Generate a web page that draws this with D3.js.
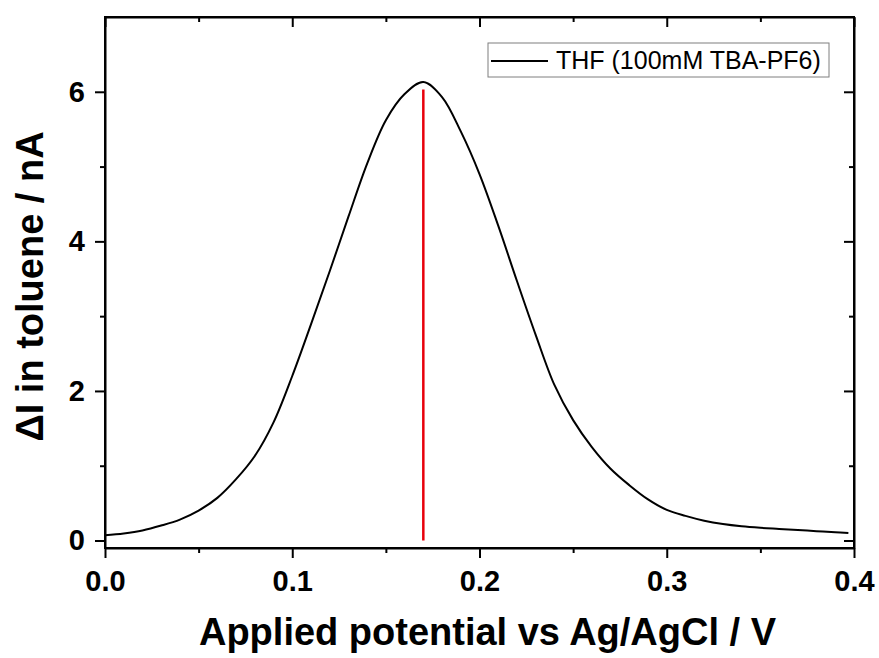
<!DOCTYPE html>
<html>
<head>
<meta charset="utf-8">
<script src="https://cdn.jsdelivr.net/npm/d3@7"></script>
<style>
  html, body { margin: 0; padding: 0; background: #fff; }
  svg { display: block; }
  text { font-family: "Liberation Sans", Arial, sans-serif; }
</style>
</head>
<body>
<svg id="chart" width="879" height="658"></svg>
<script>
// ---- data ----
const potential = [0.00, 0.01, 0.02, 0.03, 0.04, 0.05, 0.06, 0.07, 0.08, 0.09,
                   0.10, 0.11, 0.12, 0.13, 0.14, 0.15, 0.16, 0.17, 0.18, 0.19,
                   0.20, 0.21, 0.22, 0.23, 0.24, 0.25, 0.26, 0.27, 0.28, 0.29,
                   0.30, 0.31, 0.32, 0.33, 0.34, 0.35, 0.36, 0.37, 0.38, 0.39, 0.397];
const deltaI = [0.07, 0.095, 0.135, 0.20, 0.28, 0.40, 0.57, 0.82, 1.13, 1.58,
                2.20, 2.89, 3.60, 4.33, 5.04, 5.62, 5.97, 6.13, 5.93, 5.47,
                4.90, 4.21, 3.47, 2.75, 2.08, 1.61, 1.25, 0.96, 0.74, 0.55,
                0.41, 0.33, 0.265, 0.22, 0.19, 0.17, 0.155, 0.14, 0.125, 0.11, 0.10];
const peakPotential = [0.17];
const peakLine = [0, 6.03];
const xMajorTicks = [0.0, 0.1, 0.2, 0.3, 0.4];
const xMinorTicks = [0.05, 0.15, 0.25, 0.35];
const yMajorTicks = [0, 2, 4, 6];
const yMinorTicks = [1, 3, 5];
const seriesName = "THF (100mM TBA-PF6)";
const xTitle = "Applied potential vs Ag/AgCl / V";
const yTitle = "\u0394I in toluene / nA";

// ---- layout ----
const W = 879, H = 658;
const m = { left: 105, right: 25, top: 17, bottom: 110 };
const svg = d3.select("#chart");

const x = d3.scaleLinear().domain([0, 0.4]).range([m.left, W - m.right]);
const y = d3.scaleLinear().domain([-0.1, 7]).range([H - m.bottom, m.top]);

const axisStyle = g => {
  g.selectAll("path").attr("stroke", "#000").attr("stroke-width", 2);
  g.selectAll("line").attr("stroke", "#000").attr("stroke-width", 2);
};

// bottom axis
const gB = svg.append("g").attr("transform", `translate(0,${H - m.bottom})`)
  .call(d3.axisBottom(x).tickValues(xMajorTicks).tickSize(10).tickSizeOuter(0)
        .tickPadding(12).tickFormat(d3.format(".1f")));
gB.call(axisStyle);
gB.selectAll("text").attr("font-size", 29).attr("font-weight", "bold").attr("fill", "#000");
svg.append("g").attr("transform", `translate(0,${H - m.bottom})`)
  .call(d3.axisBottom(x).tickValues(xMinorTicks).tickSize(5).tickSizeOuter(0).tickFormat(""))
  .call(axisStyle).select("path").remove();

// top axis (ticks inward)
const gT = svg.append("g").attr("transform", `translate(0,${m.top})`)
  .call(d3.axisBottom(x).tickValues(xMajorTicks).tickSize(10).tickSizeOuter(0).tickFormat(""));
gT.call(axisStyle);
svg.append("g").attr("transform", `translate(0,${m.top})`)
  .call(d3.axisBottom(x).tickValues(xMinorTicks).tickSize(5).tickSizeOuter(0).tickFormat(""))
  .call(axisStyle).select("path").remove();

// left axis
const gL = svg.append("g").attr("transform", `translate(${m.left},0)`)
  .call(d3.axisLeft(y).tickValues(yMajorTicks).tickSize(10).tickSizeOuter(0)
        .tickPadding(10).tickFormat(d3.format("d")));
gL.call(axisStyle);
gL.selectAll("text").attr("font-size", 29).attr("font-weight", "bold").attr("fill", "#000");
svg.append("g").attr("transform", `translate(${m.left},0)`)
  .call(d3.axisLeft(y).tickValues(yMinorTicks).tickSize(5).tickSizeOuter(0).tickFormat(""))
  .call(axisStyle).select("path").remove();

// right axis (ticks inward)
const gR = svg.append("g").attr("transform", `translate(${W - m.right},0)`)
  .call(d3.axisLeft(y).tickValues(yMajorTicks).tickSize(10).tickSizeOuter(0).tickFormat(""));
gR.call(axisStyle);
svg.append("g").attr("transform", `translate(${W - m.right},0)`)
  .call(d3.axisLeft(y).tickValues(yMinorTicks).tickSize(5).tickSizeOuter(0).tickFormat(""))
  .call(axisStyle).select("path").remove();

// frame
svg.append("rect")
  .attr("x", m.left).attr("y", m.top)
  .attr("width", W - m.right - m.left).attr("height", H - m.bottom - m.top)
  .attr("fill", "none").attr("stroke", "#000").attr("stroke-width", 2);

// data curve
const pts = potential.map((p, i) => [p, deltaI[i]]);
svg.append("path")
  .datum(pts)
  .attr("fill", "none")
  .attr("stroke", "#000")
  .attr("stroke-width", 2)
  .attr("d", d3.line().x(d => x(d[0])).y(d => y(d[1])).curve(d3.curveCatmullRom.alpha(0.5)));

// red peak marker
svg.append("line")
  .attr("x1", x(peakPotential[0])).attr("x2", x(peakPotential[0]))
  .attr("y1", y(peakLine[0])).attr("y2", y(peakLine[1]))
  .attr("stroke", "#e8000b").attr("stroke-width", 2.5);

// legend
const lg = svg.append("g");
lg.append("rect").attr("x", 488).attr("y", 43).attr("width", 341).attr("height", 34)
  .attr("fill", "#fff").attr("stroke", "#7f7f7f").attr("stroke-width", 1);
lg.append("line").attr("x1", 491).attr("x2", 548).attr("y1", 61).attr("y2", 61)
  .attr("stroke", "#000").attr("stroke-width", 2);
lg.append("text").attr("x", 556).attr("y", 69).attr("font-size", 25)
  .attr("fill", "#000").text(seriesName);

// axis titles
svg.append("text")
  .attr("x", (m.left + W - m.right) / 2 + 8).attr("y", 645)
  .attr("text-anchor", "middle").attr("font-size", 38).attr("font-weight", "bold")
  .attr("fill", "#000").text(xTitle);
svg.append("text")
  .attr("transform", `translate(43,${(m.top + H - m.bottom) / 2 + 4}) rotate(-90)`)
  .attr("text-anchor", "middle").attr("font-size", 38).attr("font-weight", "bold")
  .attr("fill", "#000").text(yTitle);
</script>
</body>
</html>
